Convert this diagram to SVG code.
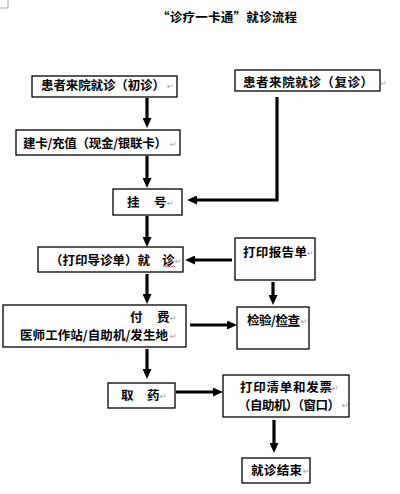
<svg xmlns="http://www.w3.org/2000/svg" width="400" height="494" viewBox="0 0 400 494">
<style>
.box{fill:#fff;stroke:#000;stroke-width:1.3}
.t{font-family:"Noto Sans CJK SC","DejaVu Sans",sans-serif;font-weight:bold;font-size:12.5px;fill:#000}
.pm{font-family:"DejaVu Sans",sans-serif;font-size:8px;fill:#999}
.c{fill:none;stroke:#000;stroke-width:3.2}
</style>
<defs>
<marker id="ah" viewBox="0 0 10 9" refX="3" refY="4.5" markerWidth="10" markerHeight="9" markerUnits="userSpaceOnUse" orient="auto">
<path d="M0,0 L10,4.5 L0,9 z" fill="#000"/>
</marker>
</defs>
<rect width="400" height="494" fill="#fff"/>
<path d="M8,0 V8 H0" fill="none" stroke="#aaa" stroke-width="1"/>
<text class="t" x="157" y="22" textLength="140" font-size="13">“诊疗一卡通”就诊流程</text>

<g id="connectors">
<path class="c" d="M147,98 V121" marker-end="url(#ah)"/>
<path class="c" d="M147,156 V181" marker-end="url(#ah)"/>
<path class="c" d="M277,97 V200 H194" stroke-width="3.5" marker-end="url(#ah)"/>
<path class="c" d="M147,216 V240" marker-end="url(#ah)"/>
<path class="c" d="M232,260 H192" marker-end="url(#ah)"/>
<path class="c" d="M273,282 V298" marker-end="url(#ah)"/>
<path class="c" d="M147,274 V297" marker-end="url(#ah)"/>
<path class="c" d="M190,325 H230" marker-end="url(#ah)"/>
<path class="c" d="M147,349 V372" marker-end="url(#ah)"/>
<path class="c" d="M176,392 H216" marker-end="url(#ah)"/>
<path class="c" d="M274,420 V446" marker-end="url(#ah)"/>
</g>

<g id="n_first">
<rect class="box" x="32" y="76" width="145" height="21"/>
<text class="t" x="41" y="90" textLength="124">患者来院就诊（初诊）</text>
<text class="pm" x="167" y="89">↵</text>
</g>
<g id="n_return">
<rect class="box" x="235" y="70" width="145" height="21"/>
<text class="t" x="243" y="87" textLength="130">患者来院就诊（复诊）</text>
<text class="pm" x="380" y="86">↵</text>
</g>
<g id="n_card">
<rect class="box" x="16" y="130" width="164" height="25"/>
<text class="t" x="23" y="147.5" textLength="144">建卡/充值（现金/银联卡）</text>
<text class="pm" x="170" y="147">↵</text>
</g>
<g id="n_register">
<rect class="box" x="113" y="189" width="69" height="26"/>
<text class="t" x="127" y="206.5">挂</text>
<text class="t" x="154" y="206.5">号</text>
<text class="pm" x="167" y="206">↵</text>
</g>
<g id="n_visit">
<rect class="box" x="38" y="247" width="145" height="25"/>
<text class="t" x="50" y="264.5" textLength="100">（打印导诊单）就</text>
<text class="t" x="162" y="264.5">诊</text>
<path d="M163,267 l1.5,-1.5 l1.5,1.5 l1.5,-1.5 l1.5,1.5 l1.5,-1.5 l1.5,1.5 l1.5,-1.5 l1.5,1.5" fill="none" stroke="#d00" stroke-width="0.7"/>
<text class="pm" x="175" y="264">↵</text>
</g>
<g id="n_report">
<rect class="box" x="235" y="238" width="80" height="42"/>
<text class="t" x="243" y="256.5" textLength="64">打印报告单</text>
<text class="pm" x="307" y="256">↵</text>
</g>
<g id="n_pay">
<rect class="box" x="3" y="305" width="183" height="42"/>
<text class="t" x="130" y="321.5">付</text>
<text class="t" x="157" y="321.5">费</text>
<text class="pm" x="170" y="321">↵</text>
<text class="t" x="20" y="339.5" textLength="148">医师工作站/自助机/发生地</text>
<text class="pm" x="170" y="339">↵</text>
</g>
<g id="n_exam">
<rect class="box" x="237" y="307" width="72" height="42"/>
<text class="t" x="247" y="324.5" textLength="53">检验/检查</text>
<line x1="276" y1="326.5" x2="300" y2="326.5" stroke="#000" stroke-width="0.8"/>
<text class="pm" x="301" y="324">↵</text>
</g>
<g id="n_medicine">
<rect class="box" x="108" y="383" width="67" height="25"/>
<text class="t" x="121" y="399.5">取</text>
<text class="t" x="147" y="399.5">药</text>
<text class="pm" x="160" y="399">↵</text>
</g>
<g id="n_invoice">
<rect class="box" x="223" y="375" width="126" height="42"/>
<text class="t" x="240" y="392" textLength="92" font-size="12">打印清单和发票</text>
<text class="pm" x="332" y="391">↵</text>
<text class="t" x="238" y="410" textLength="102" font-size="12">（自助机）（窗口）</text>
<text class="pm" x="342" y="408">↵</text>
</g>
<g id="n_end">
<rect class="box" x="242" y="458" width="68" height="25"/>
<text class="t" x="251" y="474.5" textLength="51">就诊结束</text>
<text class="pm" x="303" y="474">↵</text>
</g>
</svg>
